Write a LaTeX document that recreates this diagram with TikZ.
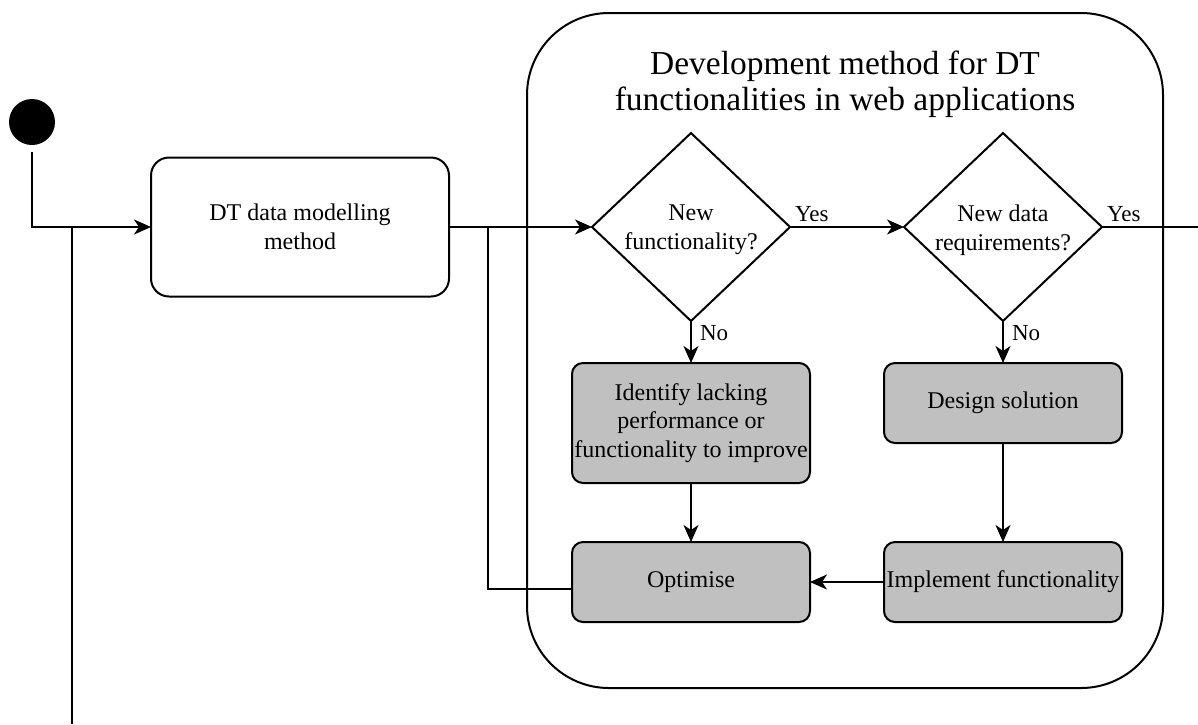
\documentclass[tikz,border=0pt]{standalone}
\usepackage{fontspec}
\setmainfont{Liberation Serif}
\usetikzlibrary{shapes.geometric,arrows.meta,calc}
\definecolor{stepgray}{RGB}{192,192,192}
\newcommand{\boxfont}{\fontsize{24}{28.8}\selectfont}
\newcommand{\headfont}{\fontsize{33.5}{36}\selectfont}
\newcommand{\lblfont}{\fontsize{23}{27}\selectfont}
\begin{document}
\begin{tikzpicture}[x=1pt,y=-1pt,line width=2pt,
  flow/.style={-{Stealth[length=17pt,width=15pt,inset=5pt]}},
  modelbox/.style={draw,rounded corners=18pt,align=center,font=\boxfont,
    inner sep=0pt,outer sep=0pt},
  stepbox/.style={draw,fill=stepgray,rounded corners=11pt,align=center,
    font=\boxfont,inner sep=0pt,outer sep=0pt,minimum width=238pt,minimum height=80pt},
  decision/.style={diamond,draw,inner sep=0pt,outer sep=0pt,
    minimum width=198pt,minimum height=188pt},
  dtext/.style={align=center,font=\boxfont,inner sep=0pt},
  lbl/.style={font=\lblfont,inner sep=0pt}]
\useasboundingbox (0,0) rectangle (1198,724);

% container of the development method
\node[draw,rounded corners=82pt,minimum width=636pt,minimum height=675pt,
  inner sep=0pt,outer sep=0pt] (dev) at (845,350.5) {};
\node[align=center,font=\headfont,inner sep=0pt] (devtitle) at (845,84)
  {Development method for DT\\functionalities in web applications};

% start and data modelling
\node[circle,fill=black,minimum size=46pt,inner sep=0pt,outer sep=0pt] (start) at (32,122) {};
\node[modelbox,minimum width=298pt,minimum height=139pt] (model) at (300,227)
  {DT data modelling\\method};

% decisions
\node[decision] (d1) at (691,227) {};
\node[dtext] (d1text) at (691,230) {New\\functionality?};
\node[decision] (d2) at (1003,227) {};
\node[dtext] (d2text) at (1003,230) {New data\\requirements?};

% activity boxes
\node[stepbox,minimum height=120pt] (identify) at (691,423)
  {Identify lacking\\performance or\\functionality to improve};
\node[stepbox] (design) at (1003,403) {Design solution};
\node[stepbox] (optimise) at (691,582) {Optimise};
\node[stepbox] (implement) at (1003,582) {Implement functionality};

% junctions and free ends
\coordinate (j1) at (72,227);
\coordinate (loopin) at (72,724);
\coordinate (j2) at (488,227);
\coordinate (exit) at (1198,227);

% connectors
\draw[flow] ($(start.south)+(0,7)$) |- (model.west);
\draw (loopin) -- (j1);
\draw[flow] (model.east) -- (d1.west);
\draw ($(optimise.west)+(0,6.5)$) -| (j2);
\draw[flow] (d1.east) -- (d2.west);
\draw (d2.east) -- (exit);
\draw[flow] (d1.south) -- (identify.north);
\draw[flow] (d2.south) -- (design.north);
\draw[flow] (identify.south) -- (optimise.north);
\draw[flow] (design.south) -- (implement.north);
\draw[flow] (implement.west) -- (optimise.east);

% branch labels
\node[lbl,anchor=base west] (yes1) at ($(d1.east)+(4,-6)$) {Yes};
\node[lbl,anchor=base west] (yes2) at ($(d2.east)+(4,-6)$) {Yes};
\node[lbl,anchor=west] (no1) at ($(d1.south)+(8,12)$) {No};
\node[lbl,anchor=west] (no2) at ($(d2.south)+(8,12)$) {No};
\end{tikzpicture}
\end{document}
